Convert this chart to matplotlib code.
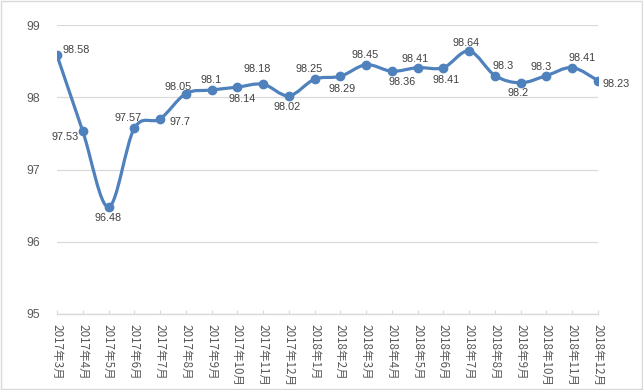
import numpy as np
import matplotlib.pyplot as plt
from matplotlib.path import Path
from matplotlib.patches import PathPatch, Rectangle

plt.rcParams['font.family'] = ['Noto Sans CJK SC', 'DejaVu Sans']

# months and values
months = ['2017年3月', '2017年4月', '2017年5月', '2017年6月', '2017年7月',
          '2017年8月', '2017年9月', '2017年10月', '2017年11月', '2017年12月',
          '2018年1月', '2018年2月', '2018年3月', '2018年4月', '2018年5月',
          '2018年6月', '2018年7月', '2018年8月', '2018年9月', '2018年10月',
          '2018年11月', '2018年12月']
values = [98.58, 97.53, 96.48, 97.57, 97.7, 98.05, 98.1, 98.14, 98.18, 98.02,
          98.25, 98.29, 98.45, 98.36, 98.41, 98.41, 98.64, 98.3, 98.2, 98.3,
          98.41, 98.23]
value_text = ['98.58', '97.53', '96.48', '97.57', '97.7', '98.05', '98.1', '98.14',
              '98.18', '98.02', '98.25', '98.29', '98.45', '98.36', '98.41', '98.41',
              '98.64', '98.3', '98.2', '98.3', '98.41', '98.23']

# label offsets in pixels (dx, dy)
label_off = [(19, 5), (-18, -6), (0, -11), (-6, 10), (20, -3), (-8, 7), (0, 10),
             (5, -12), (-6, 15), (-2, -11), (-5, 10), (2, -13), (-1, 10), (10, -11),
             (-3, 9), (3, -12), (-3, 8), (8, 10), (-3, -10), (-5, 9), (10, 10), (18, -3)]

blue = '#4F81BD'

fig = plt.figure(figsize=(6.43, 3.9), dpi=100)
ax = fig.add_axes([57/643, 1-314/390, (598-57)/643, (314-25)/390])

x = np.arange(len(values))
y = np.array(values)

# smooth line like excel (catmull-rom bezier)
verts = [(x[0], y[0])]
codes = [Path.MOVETO]
n = len(x)
for i in range(n-1):
    p0 = np.array([x[max(i-1, 0)], y[max(i-1, 0)]])
    p1 = np.array([x[i], y[i]])
    p2 = np.array([x[i+1], y[i+1]])
    p3 = np.array([x[min(i+2, n-1)], y[min(i+2, n-1)]])
    c1 = p1 + (p2 - p0) / 6
    c2 = p2 - (p3 - p1) / 6
    verts += [tuple(c1), tuple(c2), tuple(p2)]
    codes += [Path.CURVE4] * 3
ax.add_patch(PathPatch(Path(verts, codes), facecolor='none', edgecolor=blue,
                       linewidth=2.3, capstyle='round', joinstyle='round', zorder=3))
ax.plot(x, y, linestyle='none', marker='o', markersize=6, color=blue, zorder=4)

for i in range(n):
    ax.annotate(value_text[i], (x[i], y[i]), xytext=label_off[i],
                textcoords='offset pixels', ha='center', va='center',
                fontsize=7.8, color='#404040', family=['Liberation Sans'])

ax.set_xlim(0, n-1)
ax.set_ylim(95, 99)
ax.set_yticks([95, 96, 97, 98, 99])
ax.yaxis.grid(True, color='#d9d9d9', linewidth=0.9)
ax.set_axisbelow(True)
for s in ['top', 'right', 'left']:
    ax.spines[s].set_visible(False)
ax.spines['bottom'].set_color('#d9d9d9')
ax.spines['bottom'].set_linewidth(1)
ax.set_xticks(x)
ax.set_xticklabels(months, rotation=270, fontsize=8.4, color='#595959')
ax.tick_params(axis='x', direction='in', length=3, color='#d9d9d9', pad=7)
ax.tick_params(axis='y', length=0, pad=12, labelsize=8.8, labelcolor='#595959')
for lab in ax.get_yticklabels():
    lab.set_family(['Liberation Sans'])

fig.patches.append(Rectangle((0.001, 0.002), 0.997, 0.995, transform=fig.transFigure,
                             fill=False, edgecolor='#d9d9d9', linewidth=1))

fig.savefig('out.png', dpi=100)
